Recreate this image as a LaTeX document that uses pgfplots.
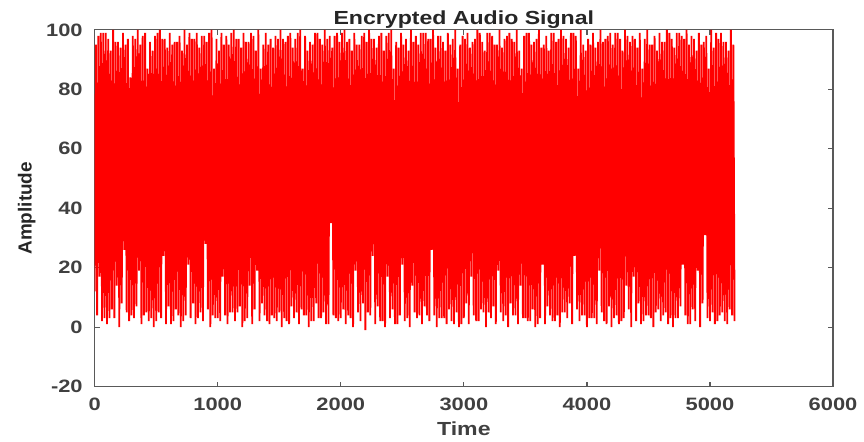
\documentclass[border=0pt]{standalone}
\usepackage{pgfplots}
\pgfplotsset{compat=1.18}
\usepackage{fontspec}
\setmainfont{Liberation Sans}[FakeStretch=1.22]
\newfontfamily\ylabfont{Liberation Sans}
\begin{document}
\begin{tikzpicture}
\begin{axis}[
  scale only axis,
  width=370.5pt, height=179pt,
  xmin=0, xmax=6000, ymin=-20, ymax=100,
  xtick={0,1000,...,6000}, ytick={-20,0,...,100},
  xtick pos=both, ytick pos=both,
  tick align=inside, major tick length=2.5pt,
  axis line style={draw=black!65, line width=0.6pt},
  tick style={draw=black!65, line width=0.6pt},
  /pgf/number format/assume math mode=true,
  /pgf/number format/1000 sep={},
  ticklabel style={font=\bfseries\fontsize{9}{11}\selectfont, text=black!75},
  yticklabel style={xshift=-2.5pt},
  xticklabel style={yshift=-2pt},
  every axis title shift=0pt,
  title={Encrypted Audio Signal},
  title style={font=\bfseries\fontsize{9.5}{11}\selectfont, text=black!85, at={(axis description cs:0.5,1.03)}, anchor=center},
  xlabel={Time},
  xlabel style={font=\bfseries\fontsize{9.5}{11}\selectfont, text=black!75, at={(axis description cs:0.5,-0.117)}, anchor=center},
  ylabel={Amplitude},
  ylabel style={font=\ylabfont\bfseries\fontsize{9.5}{11}\selectfont, text=black!85, at={(axis description cs:-0.092,0.5)}, anchor=center},
  clip=true,
]
\addplot[color=red, line width=0.9pt, line join=bevel, mark=none] coordinates {
(0,12)(10,95)(20,4)(30,98)(40,17)(50,99)(60,2)(70,99)(80,3)(90,99)
(100,1)(110,97)(120,3)(130,93)(140,6)(150,100)(160,3)(170,96)(180,14)(190,96)
(200,0)(210,94)(220,8)(230,99)(240,26)(250,95)(260,5)(270,97)(280,2)(290,84)
(300,4)(310,98)(320,3)(330,97)(340,7)(350,100)(360,19)(370,95)(380,1)(390,98)
(400,4)(410,99)(420,5)(430,87)(440,2)(450,96)(460,3)(470,93)(480,0)(490,98)
(500,2)(510,99)(520,5)(530,100)(540,3)(550,97)(560,24)(570,97)(580,1)(590,94)
(600,7)(610,99)(620,1)(630,95)(640,2)(650,96)(660,6)(670,96)(680,4)(690,98)
(700,0)(710,93)(720,2)(730,100)(740,4)(750,95)(760,21)(770,99)(780,3)(790,97)
(800,8)(810,97)(820,1)(830,99)(840,3)(850,94)(860,5)(870,98)(880,2)(890,98)
(900,28)(910,96)(920,6)(930,99)(940,0)(950,100)(960,4)(970,87)(980,3)(990,97)
(1000,3)(1010,93)(1020,2)(1030,99)(1040,17)(1050,95)(1060,4)(1070,98)(1080,1)(1090,95)
(1100,5)(1110,99)(1120,5)(1130,100)(1140,2)(1150,97)(1160,5)(1170,97)(1180,7)(1190,94)
(1200,0)(1210,99)(1220,2)(1230,96)(1240,3)(1250,96)(1260,14)(1270,99)(1280,1)(1290,98)
(1300,6)(1310,93)(1320,19)(1330,100)(1340,2)(1350,87)(1360,8)(1370,95)(1380,4)(1390,99)
(1400,2)(1410,95)(1420,1)(1430,97)(1440,4)(1450,94)(1460,3)(1470,98)(1480,2)(1490,97)
(1500,5)(1510,100)(1520,0)(1530,97)(1540,3)(1550,96)(1560,2)(1570,98)(1580,1)(1590,99)
(1600,7)(1610,94)(1620,3)(1630,97)(1640,5)(1650,99)(1660,1)(1670,100)(1680,6)(1690,87)
(1700,4)(1710,98)(1720,4)(1730,93)(1740,0)(1750,96)(1760,2)(1770,95)(1780,2)(1790,99)
(1800,8)(1810,99)(1820,3)(1830,97)(1840,3)(1850,95)(1860,5)(1870,100)(1880,1)(1890,97)
(1900,1)(1910,98)(1920,35)(1930,94)(1940,4)(1950,98)(1960,3)(1970,99)(1980,2)(1990,96)
(2000,3)(2010,99)(2020,6)(2030,100)(2040,1)(2050,96)(2060,4)(2070,97)(2080,3)(2090,93)
(2100,0)(2110,99)(2120,19)(2130,95)(2140,5)(2150,95)(2160,2)(2170,98)(2180,8)(2190,99)
(2200,-1)(2210,96)(2220,5)(2230,100)(2240,4)(2250,97)(2260,24)(2270,97)(2280,1)(2290,94)
(2300,7)(2310,98)(2320,2)(2330,99)(2340,2)(2350,93)(2360,0)(2370,98)(2380,17)(2390,99)
(2400,3)(2410,100)(2420,6)(2430,87)(2440,1)(2450,96)(2460,1)(2470,94)(2480,4)(2490,99)
(2500,21)(2510,95)(2520,2)(2530,97)(2540,3)(2550,93)(2560,0)(2570,100)(2580,14)(2590,96)
(2600,5)(2610,98)(2620,3)(2630,95)(2640,4)(2650,99)(2660,1)(2670,99)(2680,7)(2690,99)
(2700,4)(2710,97)(2720,2)(2730,97)(2740,26)(2750,100)(2760,4)(2770,94)(2780,0)(2790,98)
(2800,3)(2810,98)(2820,3)(2830,96)(2840,3)(2850,93)(2860,1)(2870,99)(2880,6)(2890,95)
(2900,2)(2910,97)(2920,1)(2930,100)(2940,5)(2950,87)(2960,0)(2970,95)(2980,1)(2990,98)
(3000,3)(3010,97)(3020,8)(3030,99)(3040,1)(3050,94)(3060,17)(3070,96)(3080,4)(3090,97)
(3100,2)(3110,100)(3120,2)(3130,99)(3140,6)(3150,96)(3160,5)(3170,93)(3180,0)(3190,99)
(3200,5)(3210,99)(3220,3)(3230,98)(3240,7)(3250,95)(3260,1)(3270,95)(3280,19)(3290,100)
(3300,5)(3310,94)(3320,2)(3330,97)(3340,4)(3350,98)(3360,0)(3370,99)(3380,8)(3390,97)
(3400,4)(3410,96)(3420,4)(3430,100)(3440,1)(3450,93)(3460,14)(3470,87)(3480,3)(3490,98)
(3500,3)(3510,99)(3520,2)(3530,99)(3540,2)(3550,95)(3560,6)(3570,96)(3580,0)(3590,97)
(3600,1)(3610,100)(3620,3)(3630,94)(3640,21)(3650,95)(3660,1)(3670,98)(3680,7)(3690,93)
(3700,4)(3710,99)(3720,2)(3730,99)(3740,2)(3750,96)(3760,4)(3770,97)(3780,0)(3790,100)
(3800,5)(3810,98)(3820,5)(3830,97)(3840,3)(3850,94)(3860,8)(3870,99)(3880,1)(3890,99)
(3900,24)(3910,98)(3920,6)(3930,87)(3940,2)(3950,100)(3960,4)(3970,95)(3980,4)(3990,93)
(4000,0)(4010,97)(4020,3)(4030,95)(4040,3)(4050,99)(4060,3)(4070,94)(4080,1)(4090,96)
(4100,19)(4110,100)(4120,5)(4130,96)(4140,2)(4150,97)(4160,1)(4170,98)(4180,7)(4190,99)
(4200,0)(4210,95)(4220,3)(4230,99)(4240,4)(4250,99)(4260,1)(4270,97)(4280,2)(4290,93)
(4300,3)(4310,100)(4320,14)(4330,98)(4340,6)(4350,96)(4360,0)(4370,98)(4380,17)(4390,97)
(4400,2)(4410,94)(4420,8)(4430,99)(4440,1)(4450,87)(4460,2)(4470,97)(4480,4)(4490,100)
(4500,4)(4510,95)(4520,3)(4530,95)(4540,0)(4550,98)(4560,5)(4570,93)(4580,6)(4590,99)
(4600,2)(4610,96)(4620,4)(4630,96)(4640,5)(4650,100)(4660,1)(4670,99)(4680,3)(4690,97)
(4700,0)(4710,94)(4720,3)(4730,99)(4740,3)(4750,99)(4760,7)(4770,98)(4780,21)(4790,97)
(4800,4)(4810,100)(4820,1)(4830,95)(4840,1)(4850,98)(4860,6)(4870,97)(4880,2)(4890,93)
(4900,19)(4910,99)(4920,0)(4930,95)(4940,8)(4950,96)(4960,31)(4970,98)(4980,3)(4990,87)
(5000,2)(5010,100)(5020,5)(5030,94)(5040,1)(5050,99)(5060,2)(5070,97)(5080,4)(5090,99)
(5100,5)(5110,96)(5120,2)(5130,96)(5140,1)(5150,93)(5160,6)(5170,100)(5180,4)(5190,95)
(5200,2)
};
\end{axis}
\path ([xshift=-47.5pt,yshift=-26.5pt]current axis.south west) rectangle ([xshift=14pt,yshift=15pt]current axis.north east);
\end{tikzpicture}
\end{document}
